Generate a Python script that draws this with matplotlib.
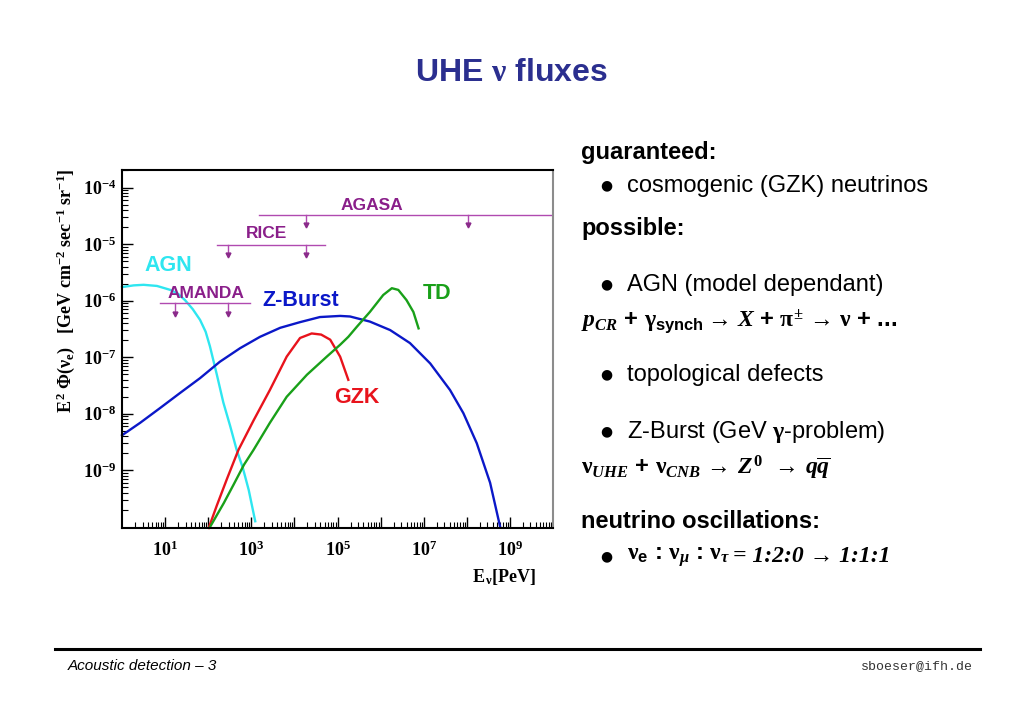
# coding: utf-8
import numpy as np
import matplotlib
matplotlib.use("Agg")
import matplotlib.pyplot as plt
from matplotlib.ticker import FixedLocator, FuncFormatter, LogLocator, NullFormatter
from matplotlib.lines import Line2D

plt.rcParams['font.family'] = ['Liberation Sans', 'DejaVu Sans']
plt.rcParams['mathtext.fontset'] = 'custom'
plt.rcParams['mathtext.rm'] = 'Liberation Serif:bold'
plt.rcParams['mathtext.it'] = 'Liberation Serif:italic:bold'
plt.rcParams['mathtext.bf'] = 'Liberation Serif:bold'
plt.rcParams['mathtext.sf'] = 'Liberation Sans:bold'

# log10(E / PeV) and log10(E^2 Phi)
agn_logE = [0.00, 0.27, 0.50, 0.81, 1.12, 1.30, 1.46, 1.64, 1.81, 1.94, 2.04, 2.20, 2.35, 2.51, 2.66, 2.80, 2.94, 3.09]
agn_logF = [-5.76, -5.73, -5.72, -5.74, -5.81, -5.88, -5.99, -6.15, -6.34, -6.55, -6.81, -7.31, -7.80, -8.22, -8.64, -8.95, -9.35, -9.90]

zb_logE = [0.00, 0.42, 0.88, 1.35, 1.81, 2.27, 2.74, 3.20, 3.67, 4.13, 4.59, 5.06, 5.29, 5.75,
           6.22, 6.68, 7.15, 7.61, 7.92, 8.23, 8.54, 8.77]
zb_logF = [-8.38, -8.16, -7.90, -7.63, -7.37, -7.08, -6.84, -6.64, -6.48, -6.38, -6.29, -6.27, -6.28, -6.37,
           -6.52, -6.75, -7.11, -7.58, -7.99, -8.52, -9.22, -9.99]

gzk_logE = [2.01, 2.20, 2.44, 2.70, 3.05, 3.43, 3.82, 4.13, 4.40, 4.62, 4.83, 5.06, 5.25]
gzk_logF = [-10.02, -9.62, -9.14, -8.64, -8.12, -7.58, -6.99, -6.66, -6.58, -6.60, -6.69, -6.99, -7.40]

td_logE = [2.05, 2.36, 2.59, 2.83, 3.05, 3.43, 3.82, 4.29, 4.75, 5.06, 5.25, 5.45, 5.75, 6.06, 6.26, 6.41, 6.60, 6.76, 6.88]
td_logF = [-9.99, -9.58, -9.25, -8.90, -8.64, -8.16, -7.70, -7.31, -6.99, -6.78, -6.64, -6.46, -6.20, -5.90, -5.78, -5.81, -5.99, -6.20, -6.49]

# experimental upper limits: name, logE range, logF level, arrow positions
limit_names = ['AMANDA', 'RICE', 'AGASA']
limit_range = [(0.89, 2.98), (2.20, 4.72), (3.17, 10.0)]
limit_level = [-6.04, -5.01, -4.48]
limit_arrows = [(1.24, 2.45), (2.45, 4.27), (4.27, 8.03)]
limit_label_pos = [(1.95, -5.87), (3.35, -4.82), (5.80, -4.31)]

curve_names = ['AGN', 'Z-Burst', 'GZK', 'TD']
curve_colors = ['#2ee6f0', '#0b18c8', '#e8131c', '#19a019']
curve_label_pos = [(1.08, -5.37), (4.14, -5.99), (5.45, -7.72), (7.31, -5.88)]

fig = plt.figure(figsize=(10.23, 7.08), dpi=100)
fig.patch.set_facecolor('white')

ax = fig.add_axes([0.1193, 0.2542, 0.4213, 0.5057])
curves = [(agn_logE, agn_logF), (zb_logE, zb_logF), (gzk_logE, gzk_logF), (td_logE, td_logF)]
for (lx, ly), c in zip(curves, curve_colors):
    ax.plot(10 ** np.array(lx), 10 ** np.array(ly), color=c, lw=1.7, clip_on=False,
            solid_joinstyle='round')

lim_col = '#b04ab0'
for name, (x0, x1), lev, arr, (tx, ty) in zip(limit_names, limit_range, limit_level, limit_arrows, limit_label_pos):
    ax.plot([10 ** x0, 10 ** x1], [10 ** lev, 10 ** lev], color=lim_col, lw=1.0)
    for a in arr:
        ax.plot([10 ** a, 10 ** a], [10 ** lev, 10 ** (lev - 0.19)], color=lim_col, lw=1.0)
        ax.plot([10 ** a], [10 ** (lev - 0.19)], marker='v', color='#8a2a8a', ms=3.5)
    ax.text(10 ** tx, 10 ** ty, name, color='#8a1f8a', fontsize=12.5, fontweight='bold',
            ha='center', va='center')

for name, c, (tx, ty) in zip(curve_names, curve_colors, curve_label_pos):
    ax.text(10 ** tx, 10 ** ty, name, color=c, fontsize=15.5, fontweight='bold',
            ha='center', va='center')

ax.set_xscale('log')
ax.set_yscale('log')
ax.set_xlim(1, 1e10)
ax.set_ylim(10 ** -10.02, 10 ** -3.69)

ax.xaxis.set_major_locator(FixedLocator([10.0 ** k for k in range(1, 10)]))
ax.xaxis.set_minor_locator(LogLocator(base=10, subs=np.arange(2, 10), numticks=20))
ax.xaxis.set_minor_formatter(NullFormatter())
ax.xaxis.set_major_formatter(FuncFormatter(
    lambda v, p: r'$\mathbf{10^{%d}}$' % round(np.log10(v)) if round(np.log10(v)) % 2 == 1 else ''))
ax.yaxis.set_major_locator(FixedLocator([10.0 ** k for k in range(-9, -3)]))
ax.yaxis.set_minor_locator(LogLocator(base=10, subs=np.arange(2, 10), numticks=20))
ax.yaxis.set_minor_formatter(NullFormatter())
ax.yaxis.set_major_formatter(FuncFormatter(lambda v, p: r'$\mathbf{10^{%d}}$' % round(np.log10(v))))

ax.tick_params(which='major', direction='in', length=8, width=1.0, labelsize=13, colors='black')
ax.tick_params(which='minor', direction='in', length=4, width=0.8)
ax.tick_params(axis='x', which='both', top=False, pad=9)
ax.tick_params(axis='y', which='both', right=False, pad=4)
for s in ['left', 'bottom', 'top']:
    ax.spines[s].set_linewidth(1.5)
ax.spines['right'].set_color('#8c8c8c')
ax.spines['right'].set_linewidth(1.5)

fig.text(66 / 1023, 1 - 291 / 708,
         r'$\mathrm{E^{\,2}\;\Phi(\nu_e)\quad[GeV\ cm^{-2}\ sec^{-1}\ sr^{-1}]}$',
         rotation=90, ha='center', va='center', fontsize=13)
fig.text(536 / 1023, 1 - 577 / 708, r'$\mathrm{E_{\,\nu}[PeV]}$', ha='right', va='center', fontsize=13)

# slide text
fig.text(0.5, 1 - 73 / 708, r'UHE $\mathrm{\nu}$ fluxes', ha='center', va='center',
         fontsize=23, fontweight='bold', color='#2b2f8f')

W, H = 1023, 708
def put(x, y, s, **kw):
    kw.setdefault('fontsize', 17)
    return fig.text(x / W, 1 - y / H, s, va='center', ha='left', **kw)

def bullet(y):
    fig.text(606 / W, 1 - (y - 1) / H, '\u25cf', fontsize=10, family='DejaVu Sans', ha='center', va='center')

put(581, 152, 'guaranteed:', fontweight='bold')
bullet(186)
put(627, 186, 'cosmogenic (GZK) neutrinos')
put(581, 228, 'possible:', fontweight='bold')
bullet(285)
put(627, 285, 'AGN (model dependant)')
put(581, 322, r'$p_{CR}$ + $\mathrm{\gamma}_{\mathsf{synch}}$ $\!$→ $X$ + $\mathrm{\pi}^{\pm}$ → $\mathrm{\nu}$ + ...',
    fontweight='bold')
bullet(375)
put(627, 375, 'topological defects')
bullet(432)
put(627, 432, r'Z-Burst (GeV $\mathrm{\gamma}$-problem)')
put(581, 468, r'$\mathrm{\nu}_{UHE}$ + $\mathrm{\nu}_{CNB}$ → $Z^{0}$  → $q\overline{q}$',
    fontweight='bold')
put(581, 522, 'neutrino oscillations:', fontweight='bold')
bullet(557)
t1 = put(627, 557, r'$\mathrm{\nu}_{\mathsf{e}}$ : $\mathrm{\nu}_{\mu}$ : $\mathrm{\nu}_{\tau}$ ', fontweight='bold')
r = fig.canvas.get_renderer()
x_end = t1.get_window_extent(renderer=r).x1
put(x_end + 2, 557, '= 1:2:0 \u2192 1:1:1', family='Liberation Serif', style='italic', fontweight='bold')

# footer
fig.add_artist(Line2D([55 / W, 980 / W], [1 - 649 / H, 1 - 649 / H], color='black', lw=2.2))
put(68, 666, 'Acoustic detection \u2013 3', fontsize=11, style='italic')
fig.text(973 / W, 1 - 666 / H, 'sboeser@ifh.de', ha='right', va='center', fontsize=9.5,
         family='Liberation Mono', color='#333333')

fig.savefig('out.png', dpi=100)
